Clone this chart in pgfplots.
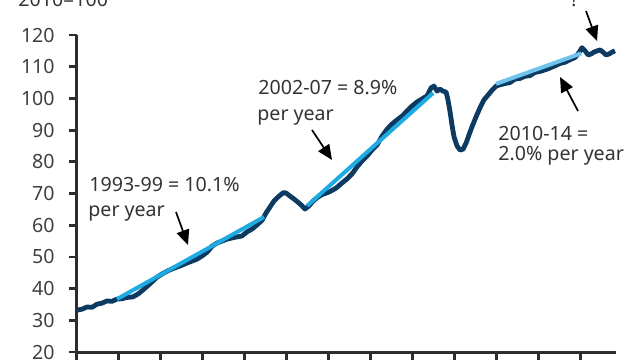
\documentclass[border=0pt]{standalone}
\usepackage{pgfplots}
\pgfplotsset{compat=1.18}
\usepackage{pgfplotstable}
\usepackage{fontspec}
\setmainfont{Noto Sans}
\usetikzlibrary{arrows.meta}
\definecolor{navy}{RGB}{12,58,96}
\definecolor{trendA}{RGB}{30,170,226}
\definecolor{trendB}{RGB}{112,196,236}
\definecolor{axisc}{RGB}{45,45,45}
\definecolor{txt}{RGB}{51,51,51}
\definecolor{tickc}{RGB}{64,64,64}

\pgfplotstableread{
year value
1991.01 33.2
1991.25 33.5
1991.49 34.2
1991.73 34.1
1991.97 35.1
1992.20 35.4
1992.44 36.1
1992.68 36.0
1992.92 36.7
1993.16 36.8
1993.40 37.2
1993.68 37.4
1993.92 38.3
1994.16 39.6
1994.40 41.0
1994.63 42.4
1994.82 43.6
1995.06 44.6
1995.30 45.5
1995.54 46.2
1995.78 46.8
1996.02 47.4
1996.26 48.1
1996.50 48.7
1996.73 49.3
1996.97 50.3
1997.21 51.5
1997.45 53.4
1997.69 54.4
1997.92 55.0
1998.16 55.6
1998.40 56.0
1998.63 56.3
1998.87 56.6
1999.11 57.9
1999.35 58.8
1999.59 60.1
1999.83 61.6
2000.01 63.8
2000.20 65.7
2000.39 67.6
2000.59 68.9
2000.82 70.2
2000.96 70.2
2001.15 69.2
2001.34 68.3
2001.53 67.3
2001.73 66.1
2001.87 65.1
2002.06 66.1
2002.25 67.6
2002.49 68.9
2002.73 69.8
2002.92 70.2
2003.11 70.8
2003.35 71.7
2003.63 73.3
2003.87 74.6
2004.11 76.2
2004.35 78.4
2004.59 80.3
2004.82 81.8
2005.06 83.7
2005.30 85.3
2005.54 88.1
2005.78 90.3
2006.01 91.9
2006.25 93.2
2006.49 94.4
2006.73 96.0
2006.97 97.6
2007.21 98.9
2007.44 99.8
2007.68 100.8
2007.87 103.3
2008.01 103.9
2008.16 102.3
2008.30 102.9
2008.44 102.3
2008.59 102.0
2008.68 99.5
2008.78 95.7
2008.87 91.6
2008.97 87.8
2009.11 85.0
2009.25 83.7
2009.40 84.0
2009.54 85.9
2009.68 88.5
2009.82 91.0
2010.01 94.1
2010.20 97.0
2010.39 99.5
2010.59 101.1
2010.78 102.6
2010.97 103.9
2011.16 104.3
2011.40 104.7
2011.63 105.0
2011.87 106.1
2012.11 106.3
2012.35 107.0
2012.59 107.2
2012.82 108.2
2013.06 108.5
2013.30 109.0
2013.54 109.6
2013.78 110.3
2014.01 111.0
2014.25 111.4
2014.49 112.2
2014.73 112.9
2014.92 114.5
2015.06 116.0
2015.21 115.0
2015.35 113.7
2015.49 114.0
2015.63 114.6
2015.78 115.0
2015.92 115.3
2016.06 114.6
2016.21 113.7
2016.35 114.0
2016.49 114.6
2016.63 115.0
}\tradeidx

\begin{document}
\begin{tikzpicture}[font=\fontsize{9.8}{12}\selectfont]
\path[use as bounding box] (-38.35pt,-4pt) rectangle (281.65pt,176pt);
\clip (-38.35pt,-4pt) rectangle (281.65pt,176pt);
\begin{axis}[
  at={(0pt,0pt)}, anchor=south west,
  scale only axis,
  width=269.65pt, height=158.5pt,
  xmin=1991, xmax=2016.68,
  ymin=20, ymax=120,
  axis lines=left,
  axis line style={-, line width=1.5pt, color=axisc},
  xtick={1991,1993,...,2015},
  xticklabels={},
  ytick={20,30,...,120},
  tick align=outside,
  major tick length=4pt,
  tick style={line width=1.4pt, color=axisc},
  yticklabel style={text=tickc, xshift=-3.5pt},
  /pgf/number format/assume math mode=true,
]
\addplot[navy, line width=2.4pt, line join=round] table[x=year,y=value] {\tradeidx};
\addplot[trendA, line width=2pt] coordinates {(1992.92,36.7) (1999.92,62.6)};
\addplot[trendA, line width=2pt] coordinates {(2001.97,66.1) (2007.97,101.7)};
\addplot[trendB, line width=2pt] coordinates {(2010.97,104.6) (2015.02,114.2)};
\end{axis}
\begin{scope}[text=txt]
\node[anchor=base west, inner sep=0pt] at (-29.35pt,172.5pt) {2010=100};
\node[anchor=base west, inner sep=0pt] at (246.65pt,172.5pt) {?};
\node[anchor=base west, inner sep=0pt] at (6.15pt,80.5pt) {1993-99 = 10.1\%};
\node[anchor=base west, inner sep=0pt] at (5.65pt,67.75pt) {per year};
\node[anchor=base west, inner sep=0pt] at (90.65pt,129pt) {2002-07 = 8.9\%};
\node[anchor=base west, inner sep=0pt] at (90.15pt,116pt) {per year};
\node[anchor=base west, inner sep=0pt] at (210.65pt,106pt) {2010-14 =};
\node[anchor=base west, inner sep=0pt] at (210.65pt,96pt) {2.0\% per year};
\end{scope}
\begin{scope}[black, line width=0.85pt, -{Triangle[width=6.5pt,length=7.5pt]}]
\draw (49.65pt,70pt) -- (55.65pt,53.5pt);
\draw (117.65pt,111pt) -- (127.65pt,96pt);
\draw (250.65pt,120.5pt) -- (241.65pt,137.5pt);
\draw (254.65pt,170.5pt) -- (260.15pt,155.5pt);
\end{scope}
\end{tikzpicture}
\end{document}
